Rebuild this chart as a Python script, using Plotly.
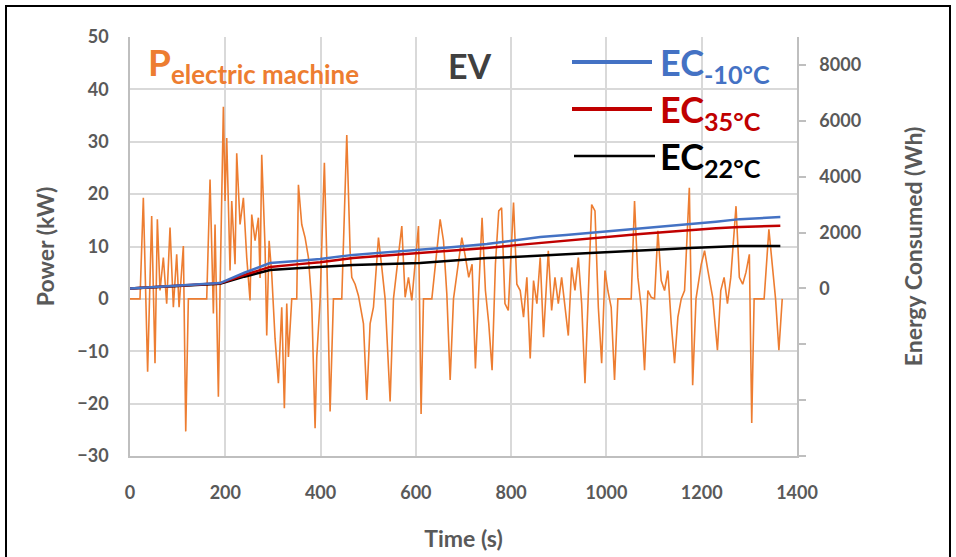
import plotly.graph_objects as go

# ---- Data ----
power_t = [0, 21, 28, 37, 45.5, 52.5, 57.4, 63, 70, 77, 84, 91, 98, 103, 112, 117, 122.5, 161,
           168, 175, 178.5, 185.5, 189, 196, 199.5, 203, 210, 213.5, 220.5, 224, 231, 238, 245,
           252, 255.5, 262.5, 269.5, 273, 276.5, 283.5, 287, 292, 297.5, 304.5, 311.5, 318.5,
           324, 329, 332.5, 339.5, 350, 353.5, 360.5, 367.5, 374.5, 381.5, 388.5, 392, 399, 408,
           413, 420, 427, 444.5, 455, 462, 465.5, 472.5, 479.5, 490, 497, 504, 511, 521.5, 528.5,
           535.5, 546, 553, 570.5, 577.5, 584.5, 591.5, 605.5, 611, 616, 633.5, 651, 658, 665,
           672, 679, 696.5, 704, 711, 718, 725, 732, 739, 746, 753, 760, 767, 774, 780, 787, 794,
           805, 812, 819, 826, 833, 840, 847, 854, 861, 868, 878, 885, 892, 899, 906, 913, 920,
           927, 934, 941, 948, 955, 962, 969, 976, 983, 990, 997, 1003, 1010, 1017, 1024, 1052,
           1059, 1066, 1073, 1080, 1087, 1094, 1101, 1108, 1115, 1122, 1129, 1136, 1143, 1150,
           1157, 1164, 1174, 1181, 1188, 1199, 1206, 1213, 1223, 1233, 1240, 1247, 1254, 1261,
           1272, 1279, 1286, 1293, 1300, 1305, 1310, 1331, 1341, 1348, 1355, 1362, 1369]
power_kw = [0, 0, 19.3, -13.9, 15.8, -12.3, 15.2, 1.6, 7.9, -0.9, 13.6, -1.6, 8.5, -1.6, 10.1, -25.3, 0, 0,
            22.8, -2.8, 14.2, -18.7, 1.6, 36.7, 18.7, 30.7, 5.4, 18.7, 6.6, 27.8, 14.2, 19.3, 7.9,
            -0.3, 16.1, 11.1, 15.5, 4.0, 27.5, 9.8, -7.0, 11.1, 4.7, -7.6, -16.1, -1.6,
            -20.9, -0.9, -11.1, 0, 0, 21.8, 14.2, 11.7, 7.9, -0.9, -24.7, -11.1, -0.3, 26.0,
            7.9, -21.5, 0, 0, 31.3, 9.2, 4.1, 2.8, 0.6, -4.7, -19.3, -4.7, -1.6, 11.7, 6.0,
            0, -19.6, 0, 13.9, 0.3, 4.1, -0.3, 13.9, -22.0, 0, 0, 15.2, 11.1, 0.9,
            -15.5, 0, 11.7, 8.0, 4.1, 6.6, -13.3, 1.6, 15.5, 1.6, -4.7, -13.6, 6.6, 16.8, 17.4, -0.9, -2.2,
            18.4, 2.8, 1.6, -3.5, 4.1, -11.4, 3.5, -0.9, 7.9, -7.3, 9.2, -2.2, 4.1, -0.9, 4.1, -1.6, -7.0,
            6.0, 1.6, 7.9, -0.9, -16.1, 1.6, 18.0, 16.8, -1.6, -12.3, 5.4, 1.6, -1.6, -15.5, 0, 0,
            18.7, 4.1, -1.6, -13.6, 1.6, 0.3, 0, 13.0, 3.5, 1.6, 5.4, -4.7, -12.3, -3.5,
            0, 1.6, 21.2, -16.5, 0, 6.6, 9.2, 5.4, 0.3, -9.8, 1.6, 4.1, -0.9, 4.1,
            17.7, 4.1, 2.8, 5.1, 8.5, -23.7, 0, 0, 13.3, 6.6, 0, -9.8, 0]

ec_t = [0, 100, 189, 240, 294, 350, 399, 468, 540, 609, 680, 749, 805, 861, 915, 966, 1020, 1071,
        1125, 1175, 1230, 1280, 1320, 1365]
ec_m10 = [0, 100, 190, 560, 910, 980, 1050, 1200, 1290, 1375, 1480, 1590, 1720, 1840, 1910, 1985,
          2070, 2160, 2230, 2305, 2390, 2480, 2520, 2555]
ec_35 = [0, 95, 180, 480, 770, 860, 940, 1090, 1180, 1270, 1360, 1450, 1540, 1630, 1720, 1800,
         1880, 1950, 2020, 2090, 2150, 2200, 2225, 2240]
ec_22 = [0, 90, 170, 420, 660, 720, 770, 840, 870, 910, 1000, 1090, 1120, 1160, 1220, 1270,
         1310, 1345, 1400, 1450, 1490, 1520, 1520, 1520]

x_ticks = [0, 200, 400, 600, 800, 1000, 1200, 1400]
y_ticks = [-30, -20, -10, 0, 10, 20, 30, 40, 50]
y2_ticks = [-6000, -4000, -2000, 0, 2000, 4000, 6000, 8000]
y2_labels = ["", "", "", "0", "2000", "4000", "6000", "8000"]

ORANGE = "#ED7D31"
BLUE = "#4472C4"
RED = "#C00000"
GRID = "#D9D9D9"
TXT = "#595959"
FONT = "Lato, Open Sans, sans-serif"

fig = go.Figure()
fig.add_trace(go.Scatter(x=power_t, y=power_kw, mode="lines",
                         line=dict(color=ORANGE, width=1.6), yaxis="y", showlegend=False))
fig.add_trace(go.Scatter(x=ec_t, y=ec_22, mode="lines",
                         line=dict(color="black", width=2.5), yaxis="y2", showlegend=False))
fig.add_trace(go.Scatter(x=ec_t, y=ec_35, mode="lines",
                         line=dict(color=RED, width=2.5), yaxis="y2", showlegend=False))
fig.add_trace(go.Scatter(x=ec_t, y=ec_m10, mode="lines",
                         line=dict(color=BLUE, width=2.5), yaxis="y2", showlegend=False))

W, H = 956, 557
L, R, T, B = 130, 797, 37, 456

def px(x):
    return (x - L) / (R - L)

def py(y):
    return (B - y) / (B - T)

tickfont = dict(size=18, family=FONT, color=TXT, weight="bold")
titlefont = dict(size=23, family=FONT, color=TXT, weight="bold")

fig.update_layout(
    width=W, height=H,
    margin=dict(l=L, r=W - R, t=T, b=H - B, autoexpand=False),
    paper_bgcolor="white", plot_bgcolor="white",
    font=dict(family=FONT, color=TXT),
    xaxis=dict(range=[0, 1400], tickvals=x_ticks, showgrid=True, gridcolor=GRID, gridwidth=1.5,
               showline=True, linecolor="#BFBFBF", linewidth=1.5, zeroline=False, ticks="",
               tickfont=tickfont, ticklabelstandoff=20, automargin=False,
               title=dict(text="Time (s)", font=titlefont, standoff=29)),
    yaxis=dict(range=[-30, 50], tickvals=y_ticks, showgrid=True, gridcolor=GRID, gridwidth=1.5,
               showline=True, linecolor="#BFBFBF", linewidth=1.5, zeroline=False, ticks="",
               tickfont=tickfont, ticklabelstandoff=16, automargin=False,
               title=dict(text="Power (kW)", font=titlefont, standoff=16)),
    yaxis2=dict(range=[-6000, 9000], overlaying="y", side="right", tickvals=y2_ticks,
                ticktext=y2_labels, showgrid=False, zeroline=False, showline=True,
                linecolor="#BFBFBF", linewidth=1.5, ticks="outside", ticklen=7,
                tickcolor="#BFBFBF", tickwidth=1.5, automargin=False,
                tickfont=tickfont, ticklabelstandoff=10,
                title=dict(text="Energy Consumed (Wh)", font=titlefont, standoff=46)),
)

# outer frame
fig.add_shape(type="rect", xref="paper", yref="paper",
              x0=px(6), x1=px(950), y0=py(575), y1=py(6),
              line=dict(color="black", width=2), fillcolor="rgba(0,0,0,0)", layer="above")

# legend-like annotations
legend_items = [
    ("<b>EC<sub>-10°C</sub></b>", BLUE, 62, 4, 572, 652),
    ("<b>EC<sub>35°C</sub></b>", RED, 109, 4, 572, 652),
    ("<b>EC<sub>22°C</sub></b>", "black", 156, 2.5, 574, 655),
]
for text, col, yy, lw, xa, xb in legend_items:
    fig.add_shape(type="line", xref="paper", yref="paper",
                  x0=px(xa), x1=px(xb), y0=py(yy), y1=py(yy),
                  line=dict(color=col, width=lw))
    fig.add_annotation(xref="paper", yref="paper", x=px(658), y=py(yy - 24),
                       xanchor="left", yanchor="top", showarrow=False, text=text,
                       font=dict(size=36, family=FONT, color=col))

fig.add_annotation(xref="paper", yref="paper", x=px(146), y=py(37),
                   xanchor="left", yanchor="top", showarrow=False,
                   text="<b>P<sub>electric machine</sub></b>",
                   font=dict(size=37, family=FONT, color=ORANGE))
fig.add_annotation(xref="paper", yref="paper", x=px(470), y=py(65),
                   xanchor="center", yanchor="middle", showarrow=False, text="<b>EV</b>",
                   font=dict(size=34, family=FONT, color="#404040"))

fig.write_html("out.html")
